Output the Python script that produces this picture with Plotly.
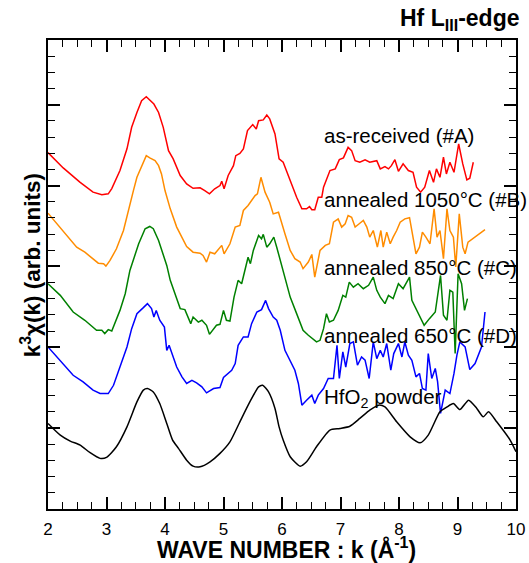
import plotly.graph_objects as go

# ---- data (k in 1/Angstrom, k^3 chi(k) with vertical offsets, arb. units) ----
k_A = [2.00, 2.26, 2.55, 2.77, 2.92, 3.03, 3.09, 3.23, 3.35, 3.43, 3.52, 3.60, 3.68, 3.74, 3.81, 3.89,
       3.97, 4.06, 4.14, 4.26, 4.37, 4.48, 4.60, 4.68, 4.76, 4.85, 4.94, 4.97, 5.01, 5.08, 5.17, 5.21,
       5.28, 5.34, 5.41, 5.50, 5.56, 5.60, 5.68, 5.74, 5.79, 5.88, 5.95, 6.02, 6.14, 6.25, 6.34, 6.42,
       6.47, 6.51, 6.56, 6.62, 6.68, 6.71, 6.82, 6.91, 6.98, 7.05, 7.13, 7.19, 7.25, 7.33, 7.42, 7.50,
       7.62, 7.68, 7.76, 7.82, 7.87, 7.93, 7.99, 8.07, 8.16, 8.24, 8.30, 8.37, 8.44, 8.52, 8.59, 8.64,
       8.70, 8.76, 8.81, 8.87, 8.94, 9.02, 9.09, 9.16, 9.21, 9.27]
y_A = [22.04, 21.09, 20.20, 19.59, 19.43, 19.49, 19.81, 20.93, 22.27, 23.60, 24.52, 25.25, 25.49, 25.29, 25.04, 24.52,
       23.60, 22.16, 21.65, 20.62, 20.10, 19.83, 19.86, 19.69, 19.49, 19.80, 20.00, 20.27, 19.80, 20.62, 21.23, 21.85,
       21.99, 22.27, 23.40, 23.77, 23.50, 24.01, 24.06, 24.36, 24.12, 23.19, 21.65, 21.44, 20.31, 19.28, 18.56, 18.56,
       18.70, 18.50, 18.50, 19.28, 19.28, 19.90, 20.93, 21.03, 21.60, 21.71, 22.36, 22.16, 21.54, 21.44, 21.59, 21.44,
       21.54, 21.03, 21.17, 21.03, 21.23, 21.60, 20.88, 21.34, 20.93, 20.82, 19.90, 19.59, 19.90, 20.93, 20.20, 21.03,
       20.51, 21.75, 20.72, 21.44, 20.82, 22.57, 21.34, 20.35, 20.45, 21.44]

k_B = [2.00, 2.15, 2.32, 2.49, 2.63, 2.77, 2.86, 2.95, 2.99, 3.06, 3.17, 3.29, 3.37, 3.46, 3.52, 3.60,
       3.68, 3.74, 3.83, 3.89, 3.94, 4.00, 4.09, 4.20, 4.29, 4.37, 4.48, 4.60, 4.65, 4.71, 4.77, 4.85,
       4.97, 5.01, 5.11, 5.20, 5.28, 5.34, 5.42, 5.48, 5.54, 5.58, 5.64, 5.71, 5.79, 5.85, 5.94, 6.05,
       6.14, 6.22, 6.31, 6.36, 6.45, 6.51, 6.56, 6.65, 6.74, 6.81, 6.88, 6.96, 7.02, 7.08, 7.13, 7.19,
       7.25, 7.32, 7.39, 7.45, 7.50, 7.56, 7.63, 7.69, 7.73, 7.79, 7.85, 7.90, 7.96, 8.02, 8.10, 8.18,
       8.22, 8.29, 8.35, 8.40, 8.46, 8.53, 8.60, 8.65, 8.70, 8.76, 8.82, 8.87, 8.93, 8.97, 9.03, 9.09,
       9.13, 9.18, 9.47]
y_B = [18.29, 17.64, 16.91, 16.19, 15.88, 15.48, 15.20, 15.17, 15.02, 15.37, 16.09, 17.22, 18.46, 19.69, 20.51, 21.23,
       21.85, 21.71, 21.54, 21.23, 20.72, 19.69, 18.56, 17.43, 16.81, 16.23, 15.88, 15.82, 15.68, 15.27, 15.88, 15.78,
       16.30, 15.78, 16.40, 17.43, 17.53, 18.46, 18.77, 19.07, 19.38, 19.49, 20.51, 19.59, 18.97, 18.25, 18.35, 17.02,
       15.99, 15.48, 15.27, 14.86, 15.27, 15.74, 14.34, 15.99, 16.30, 16.40, 17.73, 17.94, 17.43, 17.64, 18.15, 18.04,
       17.43, 17.64, 17.84, 17.43, 16.81, 17.22, 16.19, 17.22, 16.19, 17.12, 16.40, 16.81, 17.22, 17.73, 17.94, 18.01,
       17.22, 15.78, 16.19, 17.12, 16.81, 16.40, 18.56, 16.81, 17.22, 15.48, 18.56, 17.22, 16.81, 14.96, 18.25, 16.19,
       15.78, 16.50, 17.27]

k_C = [2.00, 2.21, 2.43, 2.63, 2.83, 2.92, 2.97, 3.03, 3.09, 3.23, 3.32, 3.40, 3.55, 3.66, 3.74, 3.80,
       3.89, 3.97, 4.03, 4.09, 4.11, 4.20, 4.26, 4.34, 4.44, 4.48, 4.57, 4.63, 4.71, 4.76, 4.82, 4.88,
       4.94, 5.00, 5.05, 5.11, 5.18, 5.25, 5.31, 5.37, 5.42, 5.46, 5.51, 5.60, 5.65, 5.68, 5.74, 5.79,
       5.86, 5.91, 5.95, 6.02, 6.14, 6.25, 6.36, 6.45, 6.51, 6.59, 6.65, 6.71, 6.76, 6.81, 6.88, 6.96,
       7.04, 7.09, 7.15, 7.22, 7.30, 7.39, 7.48, 7.56, 7.62, 7.68, 7.76, 7.82, 7.90, 7.99, 8.07, 8.18,
       8.22, 8.30, 8.43, 8.52, 8.62, 8.71, 8.76, 8.82, 8.87, 8.92, 8.96, 9.01, 9.07, 9.12, 9.17]
y_C = [13.93, 13.21, 12.18, 11.67, 11.05, 11.05, 10.85, 11.09, 11.01, 12.28, 13.31, 14.75, 16.40, 17.33, 17.47, 17.33,
       16.60, 15.78, 15.06, 14.14, 13.93, 13.10, 12.39, 12.33, 11.46, 11.87, 11.56, 11.67, 11.36, 10.80, 11.05, 11.36,
       11.42, 12.28, 11.67, 11.62, 13.10, 14.14, 13.93, 14.75, 15.57, 15.17, 15.99, 16.91, 16.71, 16.98, 16.19, 16.40,
       16.81, 16.19, 15.68, 14.75, 13.10, 12.08, 11.05, 10.74, 10.54, 10.33, 10.43, 11.15, 12.08, 11.56, 11.67, 12.28,
       13.21, 13.10, 14.03, 13.72, 13.93, 13.62, 13.83, 14.34, 13.52, 13.10, 12.70, 13.21, 13.01, 13.93, 13.62, 14.34,
       12.90, 12.28, 11.36, 11.77, 12.18, 14.44, 11.98, 11.67, 13.52, 13.41, 9.61, 14.55, 13.93, 12.28, 13.01]

k_D = [2.00, 2.15, 2.32, 2.43, 2.60, 2.77, 2.89, 3.03, 3.12, 3.23, 3.35, 3.43, 3.52, 3.63, 3.70, 3.77,
       3.81, 3.85, 3.91, 3.99, 4.03, 4.07, 4.20, 4.29, 4.37, 4.46, 4.54, 4.63, 4.71, 4.83, 4.94, 5.00,
       5.10, 5.14, 5.20, 5.25, 5.34, 5.42, 5.48, 5.57, 5.65, 5.72, 5.77, 5.85, 5.91, 5.97, 6.05, 6.14,
       6.22, 6.28, 6.34, 6.42, 6.51, 6.56, 6.62, 6.71, 6.79, 6.88, 6.94, 6.98, 7.04, 7.09, 7.16, 7.22,
       7.29, 7.36, 7.42, 7.49, 7.56, 7.62, 7.68, 7.73, 7.79, 7.86, 7.91, 7.99, 8.05, 8.10, 8.16, 8.22,
       8.29, 8.35, 8.40, 8.46, 8.50, 8.56, 8.62, 8.66, 8.71, 8.79, 8.87, 8.94, 8.99, 9.04, 9.13, 9.21,
       9.30, 9.41, 9.47]
y_D = [10.02, 9.40, 8.69, 8.27, 7.86, 7.35, 7.14, 7.14, 7.65, 8.78, 10.02, 11.15, 12.08, 12.45, 12.70, 12.39,
       11.87, 12.28, 11.67, 11.25, 9.81, 10.12, 8.78, 8.17, 7.76, 7.96, 7.80, 7.55, 7.18, 7.45, 7.51, 8.13,
       8.48, 8.58, 8.99, 10.12, 10.64, 10.64, 11.46, 12.18, 12.33, 12.90, 12.39, 11.87, 11.67, 11.05, 9.81, 9.20,
       8.58, 7.76, 6.42, 6.73, 7.04, 6.52, 7.04, 7.45, 8.07, 8.07, 10.12, 8.07, 9.71, 8.78, 10.23, 10.33,
       8.89, 9.40, 9.20, 8.07, 10.33, 9.30, 9.81, 9.40, 10.23, 8.58, 9.61, 10.23, 9.40, 10.33, 9.51, 9.20,
       8.17, 8.38, 7.45, 7.35, 9.61, 8.07, 8.69, 7.86, 5.91, 7.35, 7.14, 8.38, 9.51, 10.33, 10.02, 8.62,
       8.99, 10.02, 12.18]

k_E = [2.00, 2.21, 2.38, 2.55, 2.72, 2.89, 3.00, 3.17, 3.35, 3.52, 3.63, 3.70, 3.80, 3.91, 4.03, 4.13,
       4.23, 4.37, 4.48, 4.60, 4.77, 4.94, 5.11, 5.28, 5.45, 5.60, 5.67, 5.77, 5.88, 5.95, 6.02, 6.14,
       6.31, 6.42, 6.59, 6.82, 6.99, 7.16, 7.33, 7.50, 7.65, 7.76, 7.96, 8.19, 8.36, 8.50, 8.70, 8.82,
       8.93, 9.04, 9.19, 9.33, 9.44, 9.53, 9.67, 9.90, 10.00]
y_E = [5.29, 4.57, 4.20, 3.95, 3.48, 3.13, 3.19, 3.85, 5.08, 6.62, 7.35, 7.45, 7.24, 6.52, 5.29, 4.26,
       3.75, 3.02, 2.65, 2.61, 2.92, 3.44, 4.15, 5.39, 6.62, 7.55, 7.65, 7.24, 6.22, 5.08, 4.26, 3.23,
       2.65, 2.92, 3.85, 4.88, 4.98, 5.12, 5.60, 6.11, 6.42, 6.31, 5.39, 4.46, 4.09, 4.57, 6.01, 6.31,
       6.52, 6.15, 6.73, 6.22, 5.70, 6.01, 5.39, 4.26, 3.54]

labels = ["as-received (#A)", "annealed 1050°C (#B)", "annealed 850°C (#C)",
          "annealed 650°C (#D)", "HfO<sub>2</sub> powder"]
label_y = [23.09, 19.14, 14.94, 10.74, 6.85]
label_k = 6.70
colors = ["#ff0000", "#ff8c00", "#008000", "#0000ff", "#000000"]

series = [(k_A, y_A), (k_B, y_B), (k_C, y_C), (k_D, y_D), (k_E, y_E)]

FONT = "Liberation Sans, Arial"

fig = go.Figure()
for i, (kx, yy) in enumerate(series):
    fig.add_trace(go.Scatter(
        x=kx, y=yy, mode="lines",
        line=dict(color=colors[i], width=1.5,
                  shape="spline" if i == 4 else "linear", smoothing=0.6),
        showlegend=False, hoverinfo="skip"))

for t, yv in zip(labels, label_y):
    fig.add_annotation(x=label_k, y=yv, text=t, showarrow=False,
                       xanchor="left", yanchor="middle", borderpad=0,
                       font=dict(family=FONT, size=20.5, color="black"))

fig.add_annotation(xref="paper", yref="paper", x=1.008, y=1.043,
                   text="<b>Hf L<sub>III</sub>-edge</b>", showarrow=False,
                   xanchor="right", yanchor="middle", borderpad=0,
                   font=dict(family=FONT, size=23, color="black"))
fig.add_annotation(xref="paper", yref="paper", x=0.5096, y=-0.083,
                   text="<b>WAVE NUMBER : k (Å<sup>-1</sup>)</b>", showarrow=False,
                   xanchor="center", yanchor="middle", borderpad=0,
                   font=dict(family=FONT, size=23, color="black"))
fig.add_annotation(xref="paper", yref="paper", x=-0.036, y=0.52,
                   text="<b>k<sup>3</sup>χ(k) (arb. units)</b>", showarrow=False,
                   textangle=-90, xanchor="center", yanchor="middle", borderpad=0,
                   font=dict(family=FONT, size=22.5, color="black"))

axis_common = dict(showline=True, linecolor="black", linewidth=1.5, mirror="allticks",
                   ticks="inside", tickcolor="black", tickwidth=1.5, ticklen=12,
                   showgrid=False, zeroline=False, automargin=False)

fig.update_xaxes(range=[2, 10], tick0=2, dtick=1, ticklabelstandoff=4,
                 minor=dict(dtick=0.25, ticks="inside", ticklen=7, tickcolor="black",
                            tickwidth=1.2, showgrid=False),
                 tickfont=dict(family=FONT, size=17, color="black"),
                 **axis_common)
fig.update_yaxes(range=[0, 29], tick0=0, dtick=5, showticklabels=False,
                 minor=dict(dtick=1, ticks="inside", ticklen=7, tickcolor="black",
                            tickwidth=1.2, showgrid=False),
                 **axis_common)

fig.update_layout(width=529, height=563, margin=dict(l=48, r=13, t=40, b=54, autoexpand=False),
                  plot_bgcolor="white", paper_bgcolor="white",
                  font=dict(family=FONT, color="black"))

fig.write_html("out.html", config={"displayModeBar": False},
               post_script="document.body.style.margin='0';document.body.style.overflow='hidden';")
